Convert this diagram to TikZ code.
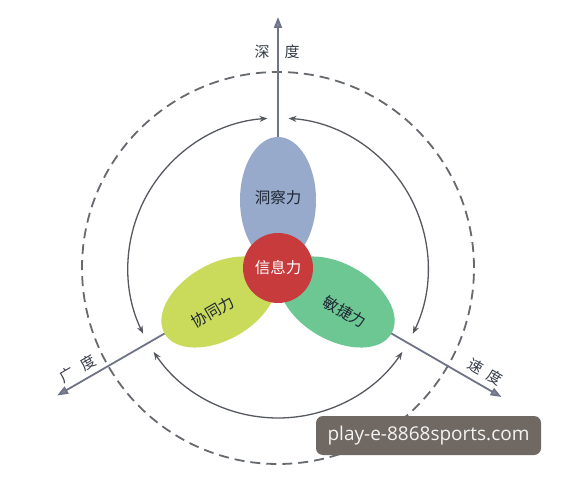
\documentclass[tikz,border=0pt]{standalone}
\usepackage{fontspec}
\newfontfamily\cjk{Noto Sans CJK SC}
\newfontfamily\wmfont{Open Sans}
\usetikzlibrary{arrows.meta,shapes.geometric,calc}
\definecolor{axisc}{HTML}{6F7387}
\definecolor{arcc}{HTML}{55595F}
\definecolor{blueE}{HTML}{97AACB}
\definecolor{yellowE}{HTML}{CADB5C}
\definecolor{greenE}{HTML}{6DC793}
\definecolor{redC}{HTML}{C73B3D}
\definecolor{wmbg}{HTML}{706963}
\definecolor{txtc}{HTML}{1E2633}
\begin{document}
\begin{tikzpicture}[x=1pt,y=1pt,
  axisline/.style={draw=axisc,line width=1.8pt,-{Triangle[length=11pt,width=8pt,fill=axisc!85]}},
  arcline/.style={draw=arcc,line width=1.3pt,{Stealth[length=8pt,width=6pt]}-{Stealth[length=8pt,width=6pt]}},
  dashring/.style={draw=arcc!90,line width=1.8pt,dash pattern=on 10pt off 6pt},
  lbl/.style={font=\cjk\fontsize{15.5}{15.5}\selectfont,text=txtc},
  axlbl/.style={font=\cjk\fontsize{15}{15}\selectfont,text=txtc!90}
]
\useasboundingbox (0,0) rectangle (562,477);
\fill[white] (0,0) rectangle (562,477);
\coordinate (C) at (278,209);
\coordinate (T) at ($(C)+(90:251)$);
\coordinate (L) at ($(C)+(210:255)$);
\coordinate (R) at ($(C)+(330:258)$);
\coordinate (PB) at ($(C)+(90:68)$);
\coordinate (PY) at ($(C)+(210:68)$);
\coordinate (PG) at ($(C)+(330:68)$);
% dashed ring
\draw[dashring] (C) circle[radius=196];
% inner arcs
\draw[arcline] ($(C)+(94:150)$) arc[start angle=94,end angle=206,radius=150];
\draw[arcline] ($(C)+(214:150)$) arc[start angle=214,end angle=326,radius=150];
\draw[arcline] ($(C)+(334:150)$) arc[start angle=334,end angle=446,radius=150];
% axes
\draw[axisline] (C) -- (T);
\draw[axisline] (C) -- (L);
\draw[axisline] (C) -- (R);
% petals
\fill[blueE,rotate around={90:(PB)}] (PB) ellipse[x radius=63,y radius=38];
\fill[yellowE,rotate around={30:(PY)}] (PY) ellipse[x radius=63,y radius=38];
\fill[greenE,rotate around={-30:(PG)}] (PG) ellipse[x radius=63,y radius=38];
\fill[redC] (C) circle[radius=35];
% texts
\node[lbl] (tB) at (278,279) {洞察力};
\node[lbl,text=white] (tR) at (C) {信息力};
\node[lbl,rotate=30] (tY) at (213,165) {协同力};
\node[lbl,rotate=-30] (tG) at (345,165) {敏捷力};
\node[axlbl] (aT) at (277,425) {深\hspace{15pt}度};
\node[axlbl,rotate=30] (aL) at (78,108) {广\hspace{9pt}度};
\node[axlbl,rotate=-30] (aR) at (485,105) {速\hspace{7pt}度};
% watermark
\node[fill=wmbg,rounded corners=7pt,minimum width=225pt,minimum height=39pt,inner sep=0pt,
  text=white!92!wmbg,font=\wmfont\fontsize{19}{19}\selectfont] (wm) at (428.5,41.5) {play-e-8868sports.com};
\end{tikzpicture}
\end{document}
